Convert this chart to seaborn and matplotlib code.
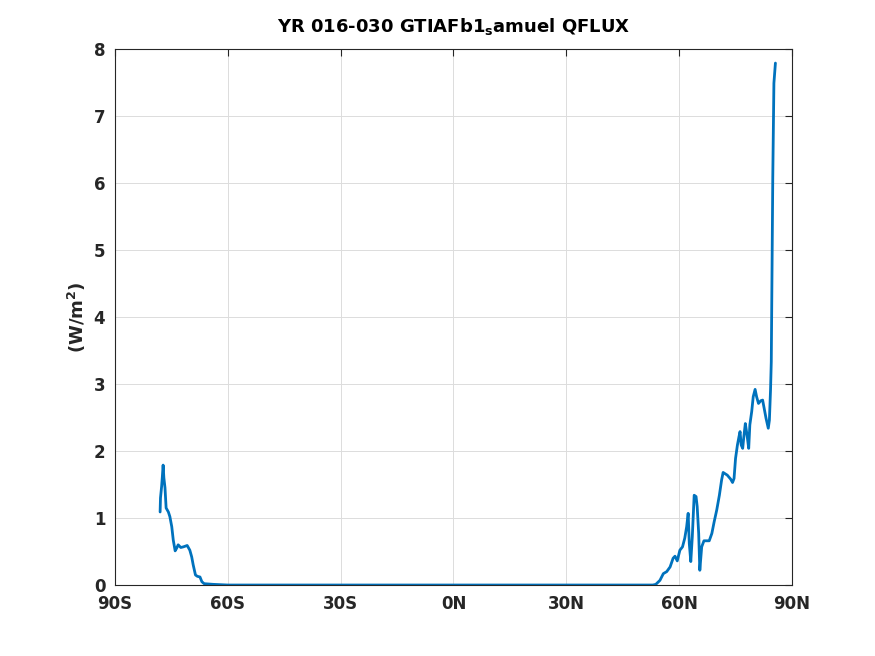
import numpy as np
import pandas as pd
import matplotlib
matplotlib.use('Agg')
import matplotlib.pyplot as plt
import seaborn as sns

# Zonal mean QFLUX (latitude in degrees, value in W/m^2)
lat = [-78.0, -77.9, -77.6, -77.4, -77.2, -77.0, -76.7, -76.4, -75.8, -75.4,
       -74.9, -74.5, -74.0, -73.6, -73.2, -72.5, -71.8, -70.8, -70.1, -69.6,
       -69.2, -68.6, -68.1, -67.4, -66.9, -66.3, -63.9, -60.0, -30.0, 0.0,
       30.0, 53.0, 53.8, 54.9, 55.8, 56.7, 57.6, 58.4, 58.9, 59.5,
       60.2, 60.9, 61.5, 62.0, 62.4, 62.7, 63.1, 63.5, 64.0, 64.5,
       64.8, 65.2, 65.5, 66.0, 66.6, 68.0, 68.7, 69.3, 70.0, 70.7,
       71.3, 71.7, 72.8, 73.7, 74.2, 74.6, 75.0, 75.5, 75.9, 76.2,
       76.5, 76.9, 77.2, 77.6, 78.0, 78.5, 78.8, 79.3, 79.7, 80.2,
       80.6, 81.1, 81.7, 82.2, 82.6, 83.1, 83.7, 84.0, 84.3, 84.5,
       84.7, 84.9, 85.2, 85.6]
qflux = [1.09, 1.30, 1.47, 1.62, 1.79, 1.60, 1.45, 1.15, 1.09, 1.02,
         0.87, 0.67, 0.51, 0.55, 0.60, 0.56, 0.57, 0.59, 0.52, 0.42,
         0.30, 0.15, 0.13, 0.12, 0.05, 0.02, 0.01, 0.0, 0.0, 0.0,
         0.0, 0.0, 0.01, 0.07, 0.17, 0.20, 0.27, 0.40, 0.43, 0.36,
         0.52, 0.57, 0.70, 0.87, 1.07, 0.62, 0.35, 0.72, 1.34, 1.32,
         1.17, 0.77, 0.22, 0.57, 0.66, 0.66, 0.77, 0.94, 1.12, 1.34,
         1.57, 1.68, 1.64, 1.58, 1.53, 1.59, 1.89, 2.09, 2.21, 2.29,
         2.09, 2.04, 2.21, 2.41, 2.26, 2.04, 2.39, 2.59, 2.81, 2.92,
         2.81, 2.71, 2.75, 2.76, 2.64, 2.49, 2.34, 2.46, 2.91, 3.33,
         4.70, 6.09, 7.49, 7.79]

xtick_vals = [-90, -60, -30, 0, 30, 60, 90]
xtick_labels = ['90S', '60S', '30S', '0N', '30N', '60N', '90N']

df = pd.DataFrame({'lat': lat, 'qflux': qflux})

sns.set_style('white')
plt.rcParams['font.family'] = ['DejaVu Sans']
plt.rcParams['font.weight'] = 'bold'

fig = plt.figure(figsize=(8.75, 6.56), dpi=100)
ax = fig.add_axes([0.1314, 0.1082, 0.7737, 0.8171])
sns.lineplot(x='lat', y='qflux', data=df, ax=ax, color='#0072BD',
             linewidth=2, sort=False)

ax.set_xlim(-90, 90)
ax.set_ylim(0, 8)
ax.set_xticks(xtick_vals)
ax.set_xticklabels(xtick_labels)
ax.set_yticks(range(0, 9))
ax.tick_params(direction='in', top=True, right=True, length=5, width=0.8,
               labelsize=12, colors='#262626')
ax.tick_params(axis='x', pad=7)
ax.tick_params(axis='y', pad=7)
for lab in ax.get_xticklabels() + ax.get_yticklabels():
    lab.set_fontweight('bold')
ax.grid(True, color='#dcdcdc', linewidth=0.7)
for sp in ax.spines.values():
    sp.set_color('#262626')
    sp.set_linewidth(0.8)
ax.set_xlabel('')
ax.set_ylabel(r'(W/m$^\mathbf{2}$)', fontsize=13, fontweight='bold',
              color='#262626', labelpad=4)
ax.set_title(r'YR 016-030 GTIAFb1$_\mathbf{s}$amuel QFLUX', fontsize=13,
             fontweight='bold', color='black', pad=12)

plt.savefig('out.png', dpi=100)
plt.close()
